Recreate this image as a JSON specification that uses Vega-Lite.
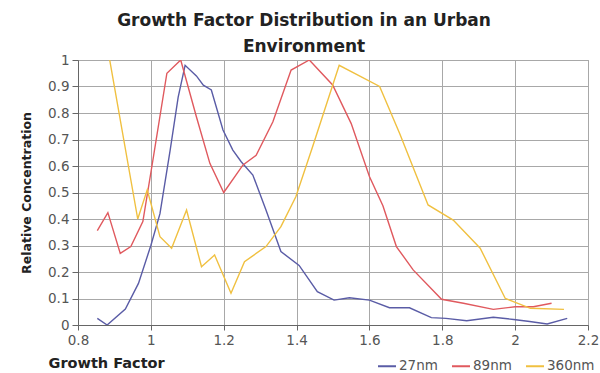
{
  "$schema": "https://vega.github.io/schema/vega-lite/v6.json",
  "autosize": {"type": "none"},
  "width": 510,
  "height": 265,
  "padding": {"left": 78, "top": 60, "right": 12, "bottom": 48},
  "background": "white",
  "title": {
    "text": ["Growth Factor Distribution in an Urban", "Environment"],
    "font": "DejaVu Sans",
    "fontSize": 17,
    "fontWeight": "bold",
    "color": "#222",
    "anchor": "middle",
    "dx": -29,
    "offset": -3,
    "lineHeight": 26
  },
  "data": {
    "values": [
      {"gf": 0.853, "c": 0.025, "s": "27nm"},
      {"gf": 0.88, "c": 0.0, "s": "27nm"},
      {"gf": 0.93, "c": 0.06, "s": "27nm"},
      {"gf": 0.966, "c": 0.157, "s": "27nm"},
      {"gf": 1.0, "c": 0.3, "s": "27nm"},
      {"gf": 1.025, "c": 0.42, "s": "27nm"},
      {"gf": 1.053, "c": 0.66, "s": "27nm"},
      {"gf": 1.075, "c": 0.86, "s": "27nm"},
      {"gf": 1.094, "c": 0.98, "s": "27nm"},
      {"gf": 1.125, "c": 0.94, "s": "27nm"},
      {"gf": 1.144, "c": 0.905, "s": "27nm"},
      {"gf": 1.166, "c": 0.887, "s": "27nm"},
      {"gf": 1.198, "c": 0.736, "s": "27nm"},
      {"gf": 1.225, "c": 0.66, "s": "27nm"},
      {"gf": 1.248, "c": 0.616, "s": "27nm"},
      {"gf": 1.28, "c": 0.566, "s": "27nm"},
      {"gf": 1.316, "c": 0.434, "s": "27nm"},
      {"gf": 1.357, "c": 0.277, "s": "27nm"},
      {"gf": 1.407, "c": 0.225, "s": "27nm"},
      {"gf": 1.457, "c": 0.126, "s": "27nm"},
      {"gf": 1.503, "c": 0.094, "s": "27nm"},
      {"gf": 1.545, "c": 0.103, "s": "27nm"},
      {"gf": 1.6, "c": 0.094, "s": "27nm"},
      {"gf": 1.655, "c": 0.065, "s": "27nm"},
      {"gf": 1.71, "c": 0.065, "s": "27nm"},
      {"gf": 1.77, "c": 0.028, "s": "27nm"},
      {"gf": 1.81, "c": 0.025, "s": "27nm"},
      {"gf": 1.867, "c": 0.016, "s": "27nm"},
      {"gf": 1.94, "c": 0.029, "s": "27nm"},
      {"gf": 1.996, "c": 0.021, "s": "27nm"},
      {"gf": 2.04, "c": 0.013, "s": "27nm"},
      {"gf": 2.088, "c": 0.004, "s": "27nm"},
      {"gf": 2.143, "c": 0.025, "s": "27nm"},

      {"gf": 0.853, "c": 0.356, "s": "89nm"},
      {"gf": 0.882, "c": 0.424, "s": "89nm"},
      {"gf": 0.916, "c": 0.27, "s": "89nm"},
      {"gf": 0.945, "c": 0.296, "s": "89nm"},
      {"gf": 0.978, "c": 0.39, "s": "89nm"},
      {"gf": 1.003, "c": 0.6, "s": "89nm"},
      {"gf": 1.044, "c": 0.95, "s": "89nm"},
      {"gf": 1.082, "c": 1.0, "s": "89nm"},
      {"gf": 1.125, "c": 0.786, "s": "89nm"},
      {"gf": 1.162, "c": 0.61, "s": "89nm"},
      {"gf": 1.2, "c": 0.5, "s": "89nm"},
      {"gf": 1.253, "c": 0.604, "s": "89nm"},
      {"gf": 1.289, "c": 0.64, "s": "89nm"},
      {"gf": 1.335, "c": 0.767, "s": "89nm"},
      {"gf": 1.385, "c": 0.962, "s": "89nm"},
      {"gf": 1.435, "c": 1.0, "s": "89nm"},
      {"gf": 1.499, "c": 0.906, "s": "89nm"},
      {"gf": 1.55, "c": 0.76, "s": "89nm"},
      {"gf": 1.6, "c": 0.56, "s": "89nm"},
      {"gf": 1.637, "c": 0.45, "s": "89nm"},
      {"gf": 1.674, "c": 0.296, "s": "89nm"},
      {"gf": 1.72, "c": 0.208, "s": "89nm"},
      {"gf": 1.798, "c": 0.097, "s": "89nm"},
      {"gf": 1.858, "c": 0.082, "s": "89nm"},
      {"gf": 1.94, "c": 0.059, "s": "89nm"},
      {"gf": 2.0, "c": 0.069, "s": "89nm"},
      {"gf": 2.05, "c": 0.069, "s": "89nm"},
      {"gf": 2.1, "c": 0.082, "s": "89nm"},

      {"gf": 0.887, "c": 1.0, "s": "360nm"},
      {"gf": 0.964, "c": 0.4, "s": "360nm"},
      {"gf": 0.99, "c": 0.51, "s": "360nm"},
      {"gf": 1.025, "c": 0.333, "s": "360nm"},
      {"gf": 1.057, "c": 0.29, "s": "360nm"},
      {"gf": 1.098, "c": 0.434, "s": "360nm"},
      {"gf": 1.139, "c": 0.22, "s": "360nm"},
      {"gf": 1.175, "c": 0.264, "s": "360nm"},
      {"gf": 1.22, "c": 0.12, "s": "360nm"},
      {"gf": 1.257, "c": 0.239, "s": "360nm"},
      {"gf": 1.316, "c": 0.296, "s": "360nm"},
      {"gf": 1.357, "c": 0.371, "s": "360nm"},
      {"gf": 1.398, "c": 0.484, "s": "360nm"},
      {"gf": 1.444, "c": 0.673, "s": "360nm"},
      {"gf": 1.517, "c": 0.98, "s": "360nm"},
      {"gf": 1.628, "c": 0.9, "s": "360nm"},
      {"gf": 1.683, "c": 0.723, "s": "360nm"},
      {"gf": 1.761, "c": 0.453, "s": "360nm"},
      {"gf": 1.83, "c": 0.396, "s": "360nm"},
      {"gf": 1.904, "c": 0.29, "s": "360nm"},
      {"gf": 1.973, "c": 0.1, "s": "360nm"},
      {"gf": 2.042, "c": 0.063, "s": "360nm"},
      {"gf": 2.134, "c": 0.059, "s": "360nm"}
    ]
  },
  "mark": {"type": "line", "strokeWidth": 1.4, "clip": true},
  "encoding": {
    "x": {
      "field": "gf",
      "type": "quantitative",
      "scale": {"domain": [0.8, 2.2], "nice": false, "zero": false},
      "axis": {
        "title": "Growth Factor",
        "values": [0.8, 1, 1.2, 1.4, 1.6, 1.8, 2, 2.2],
        "format": "~g",
        "titleAnchor": "start",
        "titleAlign": "left",
        "titleX": -30,
        "titleY": 38,
        "titleBaseline": "middle",
        "titleFont": "DejaVu Sans",
        "titleFontSize": 14.5,
        "titleFontWeight": "bold",
        "titleColor": "#222",
        "labelFont": "DejaVu Sans",
        "labelFontSize": 13.5,
        "labelColor": "#555",
        "labelPadding": 3,
        "tickSize": 5,
        "tickColor": "#666",
        "domainColor": "#666",
        "gridColor": "#a8a8a8",
        "labelFlush": false
      }
    },
    "y": {
      "field": "c",
      "type": "quantitative",
      "scale": {"domain": [0, 1], "nice": false},
      "axis": {
        "title": "Relative Concentration",
        "values": [0, 0.1, 0.2, 0.3, 0.4, 0.5, 0.6, 0.7, 0.8, 0.9, 1],
        "format": "~g",
        "titleFont": "DejaVu Sans",
        "titleFontSize": 12.5,
        "titleFontWeight": "bold",
        "titleColor": "#222",
        "titlePadding": 14,
        "labelFont": "DejaVu Sans",
        "labelFontSize": 13.5,
        "labelColor": "#555",
        "labelPadding": 3,
        "tickSize": 6,
        "tickColor": "#666",
        "domainColor": "#666",
        "gridColor": "#a8a8a8"
      }
    },
    "color": {
      "field": "s",
      "type": "nominal",
      "scale": {"domain": ["27nm", "89nm", "360nm"], "range": ["#5a5ca6", "#e0595e", "#f0c040"]},
      "legend": {
        "title": null,
        "orient": "none",
        "direction": "horizontal",
        "legendX": 299,
        "legendY": 296,
        "symbolType": "stroke",
        "symbolStrokeWidth": 2,
        "symbolSize": 324,
        "labelFont": "DejaVu Sans",
        "labelFontSize": 13.5,
        "labelColor": "#555",
        "labelOffset": 2,
        "columnPadding": 10
      }
    }
  },
  "config": {
    "view": {"stroke": "#999"},
    "axis": {"grid": true, "gridWidth": 1}
  }
}
